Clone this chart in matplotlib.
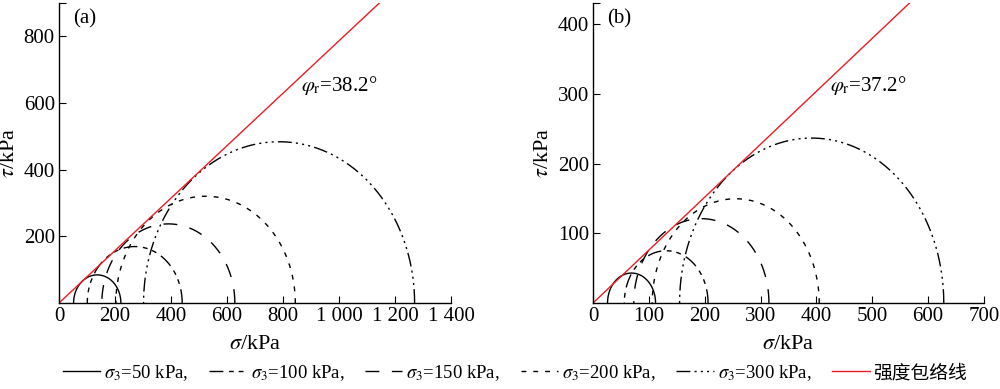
import numpy as np
import matplotlib.pyplot as plt
from matplotlib.ticker import FuncFormatter

plt.rcParams['font.family'] = ['Liberation Serif', 'Noto Sans CJK SC']
plt.rcParams['mathtext.fontset'] = 'stix'
plt.rcParams['font.size'] = 14

# confining pressures (legend) and Mohr circles
s3_labels = [50, 100, 150, 200, 300]
sigma3_a = [52, 101, 153, 203, 302]
sigma1_a = [221, 440, 628, 844, 1270]
phi_a = 38.2
sigma3_b = [26, 56, 73, 106, 155]
sigma1_b = [112, 206, 315, 405, 628]
phi_b = 37.2

xticks_a = [0, 200, 400, 600, 800, 1000, 1200, 1400]
yticks_a = [200, 400, 600, 800]
xticks_b = [0, 100, 200, 300, 400, 500, 600, 700]
yticks_b = [100, 200, 300, 400]

styles = ['-',
          (0, (10, 4, 3.5, 3.5, 3.5, 4)),
          (0, (10, 9)),
          (0, (3.5, 5)),
          (0, (10, 3, 1.5, 3, 1.5, 3, 1.5, 3))]
red = '#ec1c24'


def thousands(v, pos):
    return f'{int(v):,}'.replace(',', ' ')


def draw_panel(ax, s3, s1, phi, xticks, yticks, ylim, tag, phi_xy):
    t = np.linspace(0, np.pi, 500)
    lines = []
    for lo, hi, ls in zip(s3, s1, styles):
        c = (lo + hi) / 2
        r = (hi - lo) / 2
        ln, = ax.plot(c + r * np.cos(t), r * np.sin(t), color='black',
                      lw=1.0, linestyle=ls)
        lines.append(ln)
    xs = np.array([0, xticks[-1]])
    env, = ax.plot(xs, xs * np.tan(np.radians(phi)), color=red, lw=1.0)

    ax.set_xlim(xticks[0], xticks[-1])
    ax.set_ylim(0, ylim)
    ax.set_xticks(xticks)
    ax.set_yticks(yticks)
    ax.set_yticks([ylim], minor=True)
    ax.xaxis.set_major_formatter(FuncFormatter(thousands))
    ax.tick_params(direction='in', length=5, width=0.8, pad=3, labelsize=15)
    ax.tick_params(which='minor', direction='in', length=5, width=0.8)
    for s in ['top', 'right']:
        ax.spines[s].set_visible(False)
    for s in ['left', 'bottom']:
        ax.spines[s].set_linewidth(1.0)
    ax.set_xlabel('$\\sigma$/kPa', fontsize=16, labelpad=6)
    ax.set_ylabel('$\\tau$/kPa', fontsize=16, labelpad=3)
    ax.text(0.035, 0.98, tag, transform=ax.transAxes, ha='left', va='top',
            fontsize=15)
    ax.text(phi_xy[0], phi_xy[1], '$\\varphi_\\mathrm{r}$=%.1f°' % phi,
            ha='left', va='center', fontsize=15)
    return lines, env


fig = plt.figure(figsize=(10, 3.89), dpi=100)
ax_a = fig.add_axes([0.059, 0.221, 0.392, 0.771])
ax_b = fig.add_axes([0.593, 0.221, 0.391, 0.771])

lines, env = draw_panel(ax_a, sigma3_a, sigma1_a, phi_a, xticks_a, yticks_a,
                        900, '(a)', (865, 654))
draw_panel(ax_b, sigma3_b, sigma1_b, phi_b, xticks_b, yticks_b,
           430, '(b)', (425, 312))

labels = ['$\\sigma_3$=%d kPa,' % v for v in s3_labels] + ['强度包络线']
fig.legend(lines + [env], labels, loc='center', bbox_to_anchor=(0.515, 0.041),
           ncol=6, frameon=False, fontsize=13.5, handlelength=2.0,
           handletextpad=0.2, columnspacing=1.1)

fig.savefig('out.png', dpi=100, facecolor='white')
